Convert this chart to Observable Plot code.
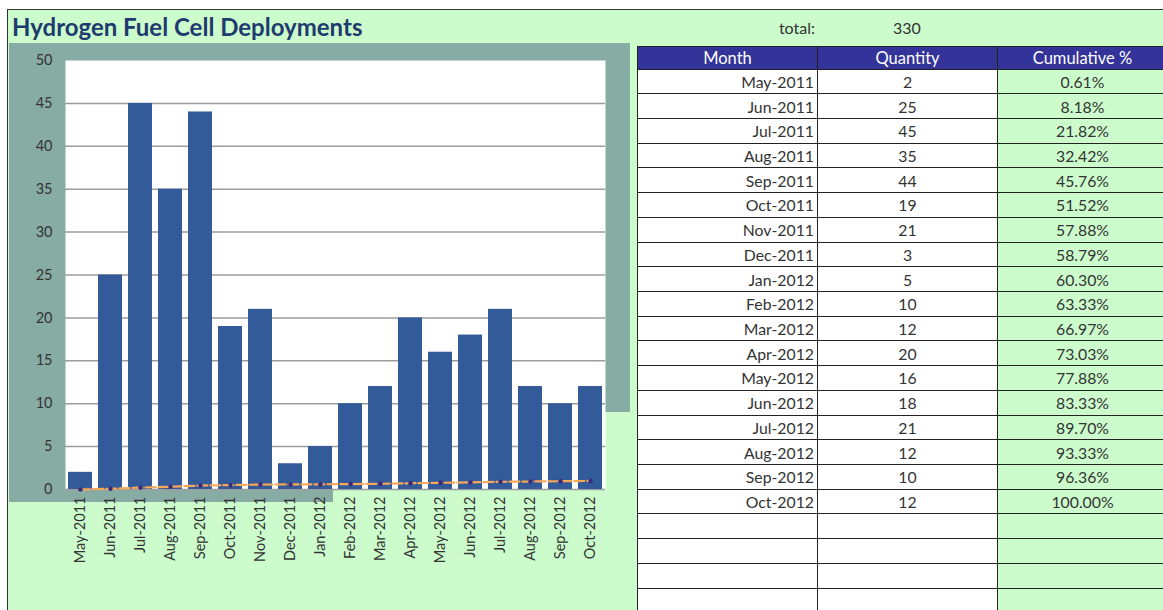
<!DOCTYPE html>
<html><head><meta charset="utf-8">
<script src="https://cdn.jsdelivr.net/npm/d3@7"></script>
<script src="https://cdn.jsdelivr.net/npm/@observablehq/plot@0.6"></script>
<style>
body{margin:0;width:1163px;height:610px;overflow:hidden;background:#fff;position:relative;font-family:Lato,"Open Sans",sans-serif}
#sheet{position:absolute;left:7px;top:9px;width:1200px;height:640px;background:#ccfccc;border-left:1.5px solid #333;border-top:1.5px solid #333}
#title{position:absolute;left:12px;top:12px;font-weight:bold;font-size:24px;color:#1f3a6e;white-space:nowrap}
.gray{position:absolute;background:#87aca3}
#chart{position:absolute;left:0;top:0}
#total{position:absolute;left:700px;top:18px;width:115px;text-align:right;font-size:16px;color:#333}
#totalv{position:absolute;left:893px;top:18px;font-size:16px;color:#333}
table{position:absolute;left:637px;top:45.5px;width:530px;border-collapse:collapse;table-layout:fixed;font-size:15.8px;color:#333}
td,th{border:1px solid #222;padding:0 3px;overflow:hidden;white-space:nowrap}
th{background:#333399;color:#fff;font-weight:normal;height:22px;font-size:16.5px}
td{height:23.72px;background:#fff}
td.m{text-align:right}
td.q{text-align:center}
td.c{text-align:center;background:#ccfccc}
</style></head>
<body>
<div id="sheet"></div>
<div id="title">Hydrogen Fuel Cell Deployments</div>
<div class="gray" style="left:9px;top:43px;width:621px;height:369px"></div>
<div class="gray" style="left:9px;top:412px;width:324px;height:90px"></div>
<div id="chart"></div>
<div id="total">total:</div>
<div id="totalv"></div>
<table id="tbl"></table>
<script>
const months = ["May-2011","Jun-2011","Jul-2011","Aug-2011","Sep-2011","Oct-2011","Nov-2011","Dec-2011","Jan-2012","Feb-2012","Mar-2012","Apr-2012","May-2012","Jun-2012","Jul-2012","Aug-2012","Sep-2012","Oct-2012"];
const quantity = [2,25,45,35,44,19,21,3,5,10,12,20,16,18,21,12,10,12];
const cumulativePct = [0.61,8.18,21.82,32.42,45.76,51.52,57.88,58.79,60.30,63.33,66.97,73.03,77.88,83.33,89.70,93.33,96.36,100.00];
const total = 330;
const yTicks = [0,5,10,15,20,25,30,35,40,45,50];
const headers = ["Month","Quantity","Cumulative %"];
const emptyRows = 4;

const data = months.map((m,i)=>({month:m, quantity:quantity[i], cum:cumulativePct[i]/100}));

const chart = Plot.plot({
  width:640, height:610,
  marginLeft:65, marginRight:35, marginTop:60, marginBottom:121,
  style:{background:"transparent", fontFamily:"Lato, 'Open Sans', sans-serif", fontSize:"14.5px", color:"#333"},
  x:{domain:months, paddingInner:0.2, paddingOuter:0.1, label:null, tickRotate:-90, tickSize:0, tickPadding:7},
  y:{domain:[0,50], ticks:yTicks, label:null, tickSize:0, tickPadding:13},
  marks:[
    Plot.frame({fill:"white", stroke:null}),
    Plot.gridY(yTicks.filter(t=>t<50), {stroke:"#9c9c9c", strokeOpacity:1, strokeWidth:1.5}),
    Plot.barY(data, {x:"month", y:"quantity", fill:"#335a99"}),
    Plot.line(data, {x:"month", y:"cum", stroke:"#f7a858", strokeWidth:2.2, strokeDasharray:"10,3"}),
    Plot.dot(data, {x:"month", y:"cum", r:2.2, fill:"#3a2a7a", stroke:null})
  ]
});
document.getElementById("chart").appendChild(chart);
document.getElementById("totalv").textContent = total;

const tbl = d3.select("#tbl");
const cg = tbl.append("colgroup");
[180,180,170].forEach(w=>cg.append("col").style("width",w+"px"));
tbl.append("tr").selectAll("th").data(headers).join("th").text(d=>d);
data.forEach((d,i)=>{
  const tr = tbl.append("tr");
  tr.append("td").attr("class","m").text(d.month);
  tr.append("td").attr("class","q").text(quantity[i]);
  tr.append("td").attr("class","c").text(cumulativePct[i].toFixed(2)+"%");
});
for(let i=0;i<emptyRows;i++){
  const tr = tbl.append("tr");
  tr.append("td").attr("class","m");
  tr.append("td").attr("class","q");
  tr.append("td").attr("class","c");
}
</script>
</body></html>
